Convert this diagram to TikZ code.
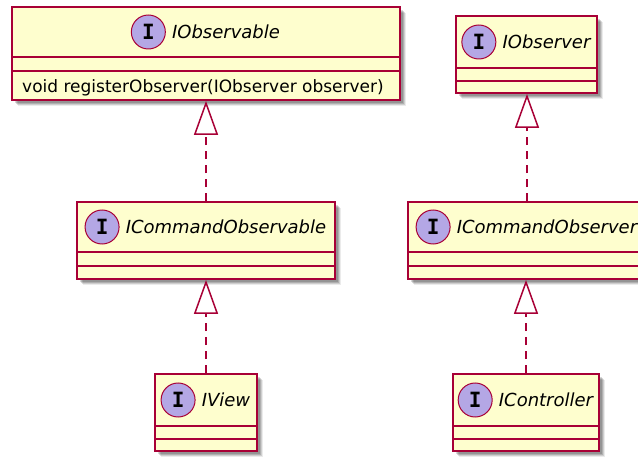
\documentclass[tikz,border=0pt]{standalone}
\usepackage{fontspec}
\setmainfont{DejaVu Sans}
\newfontfamily\markfont{DejaVu Sans Mono}
\usetikzlibrary{shadows,fit,arrows.meta}

\definecolor{umlfill}{HTML}{FEFECE}
\definecolor{umlline}{HTML}{A80036}
\definecolor{markfill}{HTML}{B4A7E5}

\tikzset{
  softshadow/.style={
    drop shadow={shadow xshift=6pt, shadow yshift=-6pt, fill=black, opacity=.08},
    drop shadow={shadow xshift=5pt, shadow yshift=-5pt, fill=black, opacity=.12},
    drop shadow={shadow xshift=4pt, shadow yshift=-4pt, fill=black, opacity=.15},
    drop shadow={shadow xshift=3pt, shadow yshift=-3pt, fill=black, opacity=.15}},
  classbox/.style={draw=umlline, fill=umlfill, line width=1.8pt, inner sep=0pt, softshadow},
  divider/.style={draw=umlline, line width=1.8pt},
  classname/.style={inner sep=0pt, font=\itshape\fontsize{18}{20}\selectfont},
  member/.style={inner sep=0pt, font=\fontsize{17}{20}\selectfont},
  ifacemark/.style={circle, draw=umlline, line width=1pt, fill=markfill,
    minimum size=34pt, inner sep=0pt, font=\markfont\bfseries\fontsize{21}{21}\selectfont},
  realize/.style={draw=umlline, line width=1.5pt, dash pattern=on 8pt off 6pt,
    -{Triangle[open, fill=white, length=34pt, width=24pt]}}
}

% interface box: name, left, right, top, divider 1, divider 2, bottom, title
\newcommand\ifaceclass[8]{%
  \node[classbox, fit={(#2,#4) (#3,#7)}] (#1) {};
  \draw[divider] (#2,#5) -- (#3,#5);
  \draw[divider] (#2,#6) -- (#3,#6);
  \node[classname] (#1-name) at ({(#2+#3)/2+20}, {(#4+#5)/2}) {#8};
  \node[ifacemark, anchor=east] (#1-mark) at ([xshift=-6pt]#1-name.west) {I};
}

\begin{document}
\begin{tikzpicture}[x=1pt, y=-1pt]
  \useasboundingbox (0,0) rectangle (638,457);
  \fill[white] (0,0) rectangle (638,457);
  \clip (0,0) rectangle (638,457);

  \ifaceclass{obs}{12}{400}{7}{57}{71}{100}{IObservable}
  \node[member, anchor=base west] (obs-op) at (22,92.5) {void registerObserver(IObserver observer)};

  \ifaceclass{obsr}{456}{597}{16}{68}{81}{93}{IObserver}
  \ifaceclass{cobs}{77}{335}{202}{252}{266}{279}{ICommandObservable}
  \ifaceclass{cobsr}{408}{646}{202}{252}{266}{279}{ICommandObserver}
  \ifaceclass{view}{155}{257}{374}{426}{439}{451}{IView}
  \ifaceclass{ctrl}{453}{599}{374}{426}{439}{451}{IController}

  \draw[realize] (cobs.north) -- (cobs.north |- obs.south);
  \draw[realize] (cobsr.north) -- (cobsr.north |- obsr.south);
  \draw[realize] (view.north) -- (view.north |- cobs.south);
  \draw[realize] (ctrl.north) -- (ctrl.north |- cobsr.south);
\end{tikzpicture}
\end{document}
